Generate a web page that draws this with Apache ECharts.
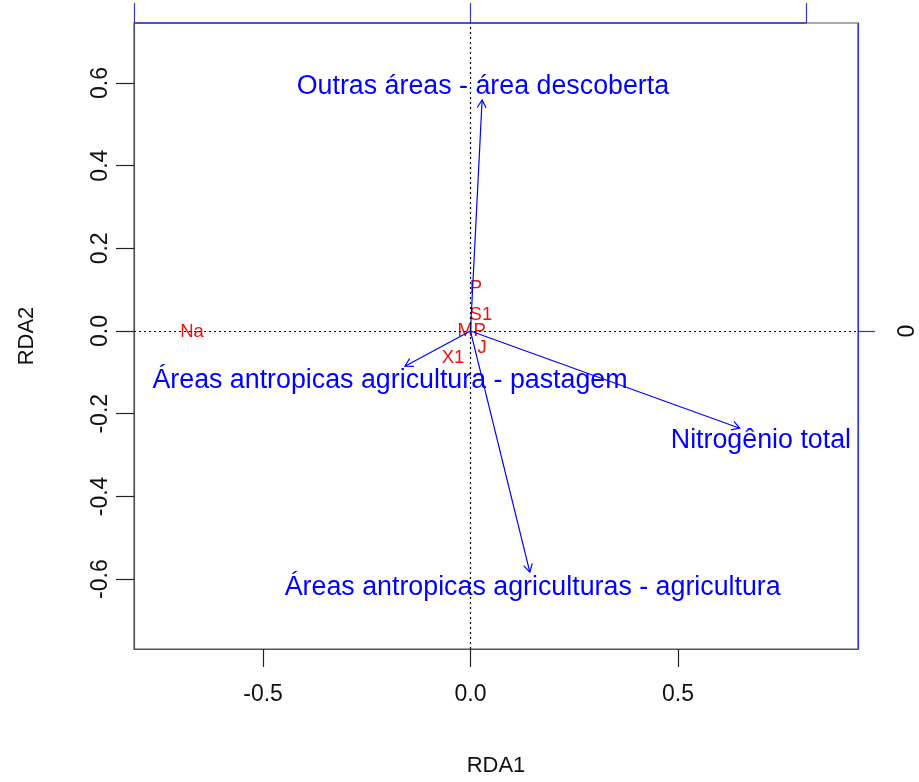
<!DOCTYPE html>
<html>
<head>
<meta charset="utf-8">
<script src="https://cdn.jsdelivr.net/npm/echarts@6/dist/echarts.min.js"></script>
<style>
  html, body { margin: 0; padding: 0; background: #ffffff; }
  #chart { width: 919px; height: 782px; }
</style>
</head>
<body>
<div id="chart"></div>
<script>
// Environmental vectors (biplot scores on RDA1 / RDA2)
const envNames = [
  "Outras áreas - área descoberta",
  "Áreas antropicas agricultura - pastagem",
  "Áreas antropicas agriculturas - agricultura",
  "Nitrogênio total"
];
const envX = [0.028, -0.158, 0.143, 0.649];
const envY = [0.559, -0.085, -0.583, -0.235];
// where each vector's label sits
const envLabelX = [0.030, -0.194, 0.150, 0.700];
const envLabelY = [0.590, -0.121, -0.620, -0.266];

// Site / species scores
const siteNames = ["Na", "P", "S1", "M", "P", "X1", "J"];
const siteX = [-0.671, 0.013, 0.025, -0.013, 0.022, -0.042, 0.028];
const siteY = [-0.002, 0.104, 0.039, 0.000, 0.000, -0.065, -0.041];

// Axis ranges and ticks
const xRange = [-0.811, 0.934];
const yRange = [-0.769, 0.745];
const xTicks = [-0.5, 0, 0.5];
const yTicks = [-0.6, -0.4, -0.2, 0, 0.2, 0.4, 0.6];
const topTicks = [-0.81, 0, 0.81];
const rightTicks = [0];

const FONT = "'Liberation Sans', Arial, Helvetica, sans-serif";
const BLUE = "#0000ff";
const AXIS_BLUE = "#3535c8";
const RED = "#f01010";
const GREY = "#555555";

const chart = echarts.init(document.getElementById('chart'), null, { renderer: 'canvas' });

const envData = envX.map((x, i) => [x, envY[i]]);
const envLabelData = envLabelX.map((x, i) => [x, envLabelY[i]]);
const siteData = siteX.map((x, i) => [x, siteY[i]]);

function arrowItem(params, api) {
  const o = api.coord([0, 0]);
  const p = api.coord([api.value(0), api.value(1)]);
  const ang = Math.atan2(p[1] - o[1], p[0] - o[0]);
  const L = 9, spread = Math.PI / 6;
  const h1 = [p[0] - L * Math.cos(ang - spread), p[1] - L * Math.sin(ang - spread)];
  const h2 = [p[0] - L * Math.cos(ang + spread), p[1] - L * Math.sin(ang + spread)];
  const st = { stroke: BLUE, lineWidth: 1.2, fill: null };
  return {
    type: 'group',
    children: [
      { type: 'line', shape: { x1: o[0], y1: o[1], x2: p[0], y2: p[1] }, style: st },
      { type: 'polyline', shape: { points: [h1, p, h2] }, style: st }
    ]
  };
}

function textItem(names, color, size) {
  return function (params, api) {
    const p = api.coord([api.value(0), api.value(1)]);
    return {
      type: 'text',
      x: p[0], y: p[1],
      style: {
        text: names[params.dataIndex],
        fill: color,
        fontSize: size,
        fontFamily: FONT,
        align: 'center',
        verticalAlign: 'middle'
      }
    };
  };
}

const option = {
  backgroundColor: '#ffffff',
  animation: false,
  grid: {
    left: 134, top: 23, width: 724, height: 626,
    show: true, borderColor: GREY, borderWidth: 1.2, backgroundColor: 'transparent'
  },
  xAxis: [
    {
      type: 'value', position: 'bottom', min: xRange[0], max: xRange[1],
      name: 'RDA1', nameLocation: 'middle', nameGap: 106,
      nameTextStyle: { fontFamily: FONT, fontSize: 22, color: '#111' },
      axisLine: { show: true, onZero: false, lineStyle: { color: GREY, width: 1.2 } },
      axisTick: { show: true, inside: false, length: 18, customValues: xTicks, lineStyle: { color: '#222', width: 1.2 } },
      axisLabel: { show: true, customValues: xTicks, margin: 34, fontFamily: FONT, fontSize: 23, color: '#111',
        formatter: v => v.toFixed(1) },
      splitLine: { show: false }
    },
    {
      type: 'value', position: 'top', min: xRange[0], max: xRange[1],
      axisLine: { show: false, onZero: false },
      axisTick: { show: true, inside: false, length: 20, customValues: topTicks, lineStyle: { color: AXIS_BLUE, width: 1.2 } },
      axisLabel: { show: false },
      splitLine: { show: false }
    }
  ],
  yAxis: [
    {
      type: 'value', position: 'left', min: yRange[0], max: yRange[1],
      name: 'RDA2', nameLocation: 'middle', nameGap: 96, nameRotate: 90,
      nameTextStyle: { fontFamily: FONT, fontSize: 22, color: '#111' },
      axisLine: { show: true, onZero: false, lineStyle: { color: GREY, width: 1.2 } },
      axisTick: { show: true, inside: false, length: 18, customValues: yTicks, lineStyle: { color: '#222', width: 1.2 } },
      axisLabel: { show: true, customValues: yTicks, rotate: 90, margin: 22, fontFamily: FONT, fontSize: 23, color: '#111',
        formatter: v => v.toFixed(1) },
      splitLine: { show: false }
    },
    {
      type: 'value', position: 'right', min: yRange[0], max: yRange[1],
      axisLine: { show: true, onZero: false, lineStyle: { color: AXIS_BLUE, width: 1.2 } },
      axisTick: { show: true, inside: false, length: 17, customValues: rightTicks, lineStyle: { color: AXIS_BLUE, width: 1.2 } },
      axisLabel: { show: true, customValues: rightTicks, rotate: 90, margin: 38, fontFamily: FONT, fontSize: 23, color: '#111',
        formatter: v => String(v) },
      splitLine: { show: false }
    }
  ],
  series: [
    {
      // reference lines through the origin
      type: 'line', data: [], xAxisIndex: 0, yAxisIndex: 0,
      markLine: {
        silent: true, symbol: ['none', 'none'], label: { show: false },
        lineStyle: { color: '#000', type: [2, 3], width: 1.2 },
        data: [{ xAxis: 0 }, { yAxis: 0 }]
      }
    },
    {
      // top axis line spans the outer ticks only
      type: 'line', xAxisIndex: 0, yAxisIndex: 0, clip: false, symbol: 'none',
      data: [[topTicks[0], yRange[1]], [topTicks[topTicks.length - 1], yRange[1]]],
      lineStyle: { color: AXIS_BLUE, width: 1.4 }, z: 5
    },
    {
      type: 'custom', xAxisIndex: 0, yAxisIndex: 0, clip: false,
      renderItem: textItem(siteNames, RED, 18.5),
      data: siteData, z: 3
    },
    {
      type: 'custom', xAxisIndex: 0, yAxisIndex: 0, clip: false,
      renderItem: arrowItem,
      data: envData, z: 4
    },
    {
      type: 'custom', xAxisIndex: 0, yAxisIndex: 0, clip: false,
      renderItem: textItem(envNames, BLUE, 26.8),
      data: envLabelData, z: 4
    }
  ]
};

chart.setOption(option);
</script>
</body>
</html>
